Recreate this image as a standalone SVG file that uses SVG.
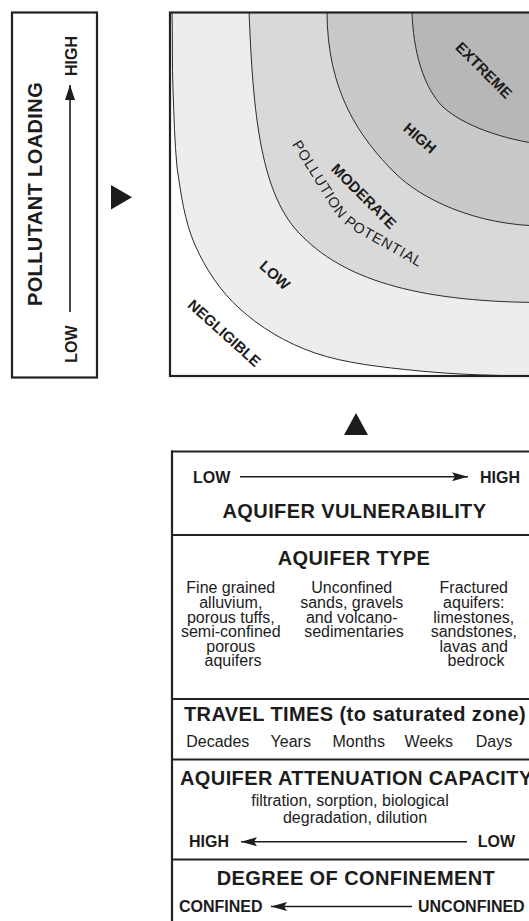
<svg xmlns="http://www.w3.org/2000/svg" width="529" height="921" viewBox="0 0 529 921">
<style>
.b{font-family:"Liberation Sans",Arial,Helvetica,sans-serif;font-weight:bold;fill:#1c1c1c}
.r{font-family:"Liberation Sans",Arial,Helvetica,sans-serif;font-size:16px;fill:#1c1c1c}
.t20{font-size:20px;letter-spacing:0.4px}
.t16{font-size:16px}
.lbl{font-size:15px}
.curve{fill:none;stroke:#2a2a2a;stroke-width:1}
.frame{fill:none;stroke:#222;stroke-width:2.2}
.rule{stroke:#222;stroke-width:2.2}
.arr{stroke:#1c1c1c;stroke-width:1.6;fill:none}
.tri{fill:#1c1c1c}
</style>
<defs>
<marker id="ah" viewBox="0 0 16 9" refX="16" refY="4.5" markerWidth="16" markerHeight="9" markerUnits="userSpaceOnUse" orient="auto">
<path d="M0,0 L16,4.5 L0,9 L3,4.5 Z" fill="#1c1c1c"/>
</marker>
<marker id="ah2" viewBox="0 0 15 10" refX="15" refY="5" markerWidth="15" markerHeight="10" markerUnits="userSpaceOnUse" orient="auto">
<path d="M0,0 L15,5 L0,10 Z" fill="#1c1c1c"/>
</marker>
<clipPath id="chartClip"><rect x="170" y="12.5" width="380" height="363.5"/></clipPath>
<path id="ppPath" d="M291.8,144.2 L332.2,208.8 Q341.7,224 357.5,232.8 L418.6,267"/>
</defs>

<rect width="529" height="921" fill="#ffffff"/>

<g id="pollutant-loading">
<rect x="12" y="12.5" width="85" height="365" class="frame"/>
<text class="b t20" transform="translate(41.5,194) rotate(-90)" text-anchor="middle">POLLUTANT LOADING</text>
<line x1="70" y1="312" x2="70" y2="85" class="arr" marker-end="url(#ah2)"/>
<text class="b t16" transform="translate(76.5,56) rotate(-90)" text-anchor="middle">HIGH</text>
<text class="b t16" transform="translate(76.5,344) rotate(-90)" text-anchor="middle">LOW</text>
</g>

<g id="pollution-potential-chart">
<g clip-path="url(#chartClip)">
<rect x="170" y="12.5" width="380" height="363.5" fill="#ffffff"/>
<path d="M172,11 C172.7,38 172,64.2 173,90 C174,115.8 174.5,141.2 177,167 C180.7,192.8 184.5,221.3 195,245 C205.5,268.7 220,291 240,309 C260,327 285,342.7 315,353 C345,363.3 381.7,367.2 420,371 C458.3,374.8 503.3,376 545,376 L550,376 L550,0 L172,0 Z" fill="#ededed"/>
<path d="M249,11 C253,112 260,197 303,237 C348,282 425,302.5 545,302.5 L550,302.5 L550,0 L249,0 Z" fill="#d9d9d9"/>
<path d="M327,11 C327,92 360,138 395,173 C420,198 475,226 545,226 L550,226 L550,0 L327,0 Z" fill="#c9c9c9"/>
<path d="M412,11 C413,50 423,87 443,107 C463,125 500,139 545,145 L550,145 L550,0 L412,0 Z" fill="#b7b7b7"/>
<path class="curve" d="M172,11 C172.7,38 172,64.2 173,90 C174,115.8 174.5,141.2 177,167 C180.7,192.8 184.5,221.3 195,245 C205.5,268.7 220,291 240,309 C260,327 285,342.7 315,353 C345,363.3 381.7,367.2 420,371 C458.3,374.8 503.3,376 545,376"/>
<path class="curve" d="M249,11 C253,112 260,197 303,237 C348,282 425,302.5 545,302.5"/>
<path class="curve" d="M327,11 C327,92 360,138 395,173 C420,198 475,226 545,226"/>
<path class="curve" d="M412,11 C413,50 423,87 443,107 C463,125 500,139 545,145"/>
</g>
<text class="b lbl" transform="translate(484,70) rotate(45)" text-anchor="middle" dy="0.36em">EXTREME</text>
<text class="b lbl" transform="translate(420,138) rotate(41)" text-anchor="middle" dy="0.36em">HIGH</text>
<text class="b lbl" transform="translate(364,196) rotate(45)" text-anchor="middle" dy="0.36em">MODERATE</text>
<text class="b lbl" transform="translate(275,275) rotate(42)" text-anchor="middle" dy="0.36em">LOW</text>
<text class="b lbl" transform="translate(224.5,333) rotate(42)" text-anchor="middle" dy="0.36em">NEGLIGIBLE</text>
<text class="r" style="font-size:14.5px;letter-spacing:0.8px"><textPath href="#ppPath">POLLUTION POTENTIAL</textPath></text>
<rect x="170" y="12.5" width="400" height="363.5" class="frame"/>
</g>

<g id="connectors">
<polygon class="tri" points="111,185 132,197.3 111,209.5"/>
<polygon class="tri" points="344,435 356,413 368,435"/>
</g>

<g id="aquifer-vulnerability-table">
<line x1="171" y1="451.5" x2="540" y2="451.5" class="rule"/>
<line x1="172" y1="450.5" x2="172" y2="921" class="rule"/>
<line x1="171" y1="535" x2="540" y2="535" class="rule"/>
<line x1="171" y1="699" x2="540" y2="699" class="rule"/>
<line x1="171" y1="759.5" x2="540" y2="759.5" class="rule"/>
<line x1="171" y1="859.5" x2="540" y2="859.5" class="rule"/>
</g>

<g id="vulnerability-row">
<text class="b t16" x="193" y="482.5">LOW</text>
<line x1="240" y1="476.7" x2="468" y2="476.7" class="arr" marker-end="url(#ah)"/>
<text class="b t16" x="520" y="482.5" text-anchor="end">HIGH</text>
<text class="b t20" x="354.5" y="518" text-anchor="middle">AQUIFER VULNERABILITY</text>
</g>

<g id="aquifer-type-row">
<text class="b t20" x="354" y="565" text-anchor="middle">AQUIFER TYPE</text>
<text class="r" text-anchor="middle">
<tspan x="233" y="593.3">Fine grained</tspan>
<tspan x="233" y="607.9">alluvium,</tspan>
<tspan x="233" y="622.5">porous tuffs,</tspan>
<tspan x="233" y="637.1">semi-confined</tspan>
<tspan x="233" y="651.7">porous</tspan>
<tspan x="233" y="666.3">aquifers</tspan>
</text>
<text class="r" text-anchor="middle">
<tspan x="354" y="593.3">Unconfined</tspan>
<tspan x="354" y="607.9">sands, gravels</tspan>
<tspan x="354" y="622.5">and volcano-</tspan>
<tspan x="354" y="637.1">sedimentaries</tspan>
</text>
<text class="r" text-anchor="middle">
<tspan x="476" y="593.3">Fractured</tspan>
<tspan x="476" y="607.9">aquifers:</tspan>
<tspan x="476" y="622.5">limestones,</tspan>
<tspan x="476" y="637.1">sandstones,</tspan>
<tspan x="476" y="651.7">lavas and</tspan>
<tspan x="476" y="666.3">bedrock</tspan>
</text>
</g>

<g id="travel-times-row">
<text class="b t20" x="355" y="720.7" text-anchor="middle">TRAVEL TIMES (to saturated zone)</text>
<text class="r" y="746.5" text-anchor="middle">
<tspan x="220">Decades</tspan>
<tspan x="293">Years</tspan>
<tspan x="361">Months</tspan>
<tspan x="431">Weeks</tspan>
<tspan x="494">Days</tspan>
</text>
</g>

<g id="attenuation-row">
<text class="b t20" x="180" y="785">AQUIFER ATTENUATION CAPACITY</text>
<text class="r" x="350" y="806" text-anchor="middle">filtration, sorption, biological</text>
<text class="r" x="355" y="823" text-anchor="middle">degradation, dilution</text>
<text class="b t16" x="189" y="847">HIGH</text>
<line x1="467" y1="841.7" x2="241" y2="841.7" class="arr" marker-end="url(#ah)"/>
<text class="b t16" x="515" y="847" text-anchor="end">LOW</text>
</g>

<g id="confinement-row">
<text class="b t20" x="356" y="885" text-anchor="middle">DEGREE OF CONFINEMENT</text>
<text class="b t16" x="179" y="911.5">CONFINED</text>
<line x1="412" y1="906.5" x2="271" y2="906.5" class="arr" marker-end="url(#ah)"/>
<text class="b t16" x="418" y="911.5">UNCONFINED</text>
</g>
</svg>
